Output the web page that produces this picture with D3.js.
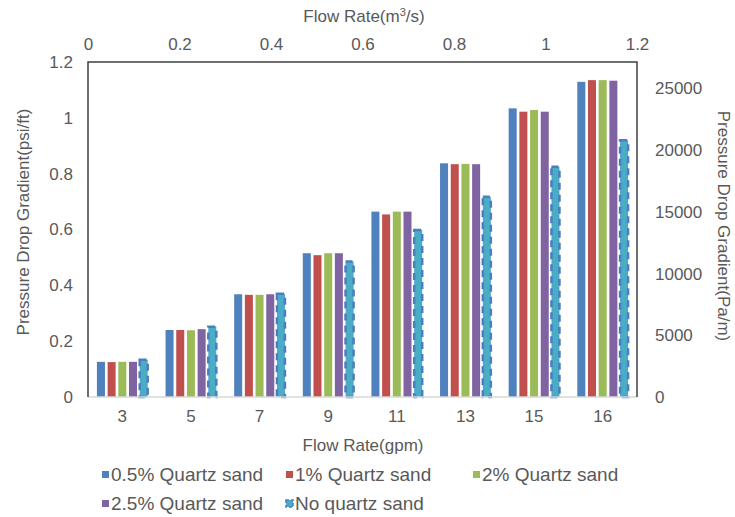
<!DOCTYPE html>
<html>
<head>
<meta charset="utf-8">
<script src="https://cdn.jsdelivr.net/npm/d3@7/dist/d3.min.js"></script>
<style>
  html, body { margin: 0; padding: 0; background: #fff; }
  svg text { font-family: "Liberation Sans", Arial, sans-serif; fill: #595959; }
</style>
</head>
<body>
<svg id="chart" width="735" height="517"></svg>
<script>
// Flow rates (gpm) on the category axis
const flowRates = ["3", "5", "7", "9", "11", "13", "15", "16"];

// Pressure drop gradient (psi/ft) per sand concentration
const sand05 = [0.126, 0.240, 0.368, 0.515, 0.664, 0.837, 1.034, 1.129];
const sand1  = [0.125, 0.240, 0.366, 0.508, 0.654, 0.834, 1.022, 1.135];
const sand2  = [0.126, 0.239, 0.366, 0.515, 0.664, 0.835, 1.028, 1.135];
const sand25 = [0.126, 0.243, 0.368, 0.515, 0.664, 0.834, 1.022, 1.133];
const noSand = [0.133, 0.252, 0.370, 0.485, 0.598, 0.717, 0.825, 0.920];

const seriesNames = ["0.5% Quartz sand", "1% Quartz sand", "2% Quartz sand", "2.5% Quartz sand", "No quartz sand"];
const seriesValues = [sand05, sand1, sand2, sand25, noSand];
const seriesColors = ["#4F81BD", "#C0504D", "#9BBB59", "#8064A2", "#4BACC6"];

const leftTicks  = [0, 0.2, 0.4, 0.6, 0.8, 1, 1.2];
const rightTicks = [0, 5000, 10000, 15000, 20000, 25000];
const topTicks   = [0, 0.2, 0.4, 0.6, 0.8, 1, 1.2];

const PSI_FT_TO_PA_M = 22620.6;

const svg = d3.select("#chart");
const plot = { left: 88, right: 637, top: 62, bottom: 397 };

const x0 = d3.scaleBand().domain(flowRates)
  .range([plot.left, plot.right]).paddingInner(0.26).paddingOuter(0.13);
const x1 = d3.scaleBand().domain(d3.range(seriesNames.length))
  .range([0, x0.bandwidth()]).paddingInner(0.25);
const y = d3.scaleLinear().domain([0, 1.2]).range([plot.bottom, plot.top]);
const yRight = d3.scaleLinear().domain([0, 1.2 * PSI_FT_TO_PA_M]).range([plot.bottom, plot.top]);
const xTop = d3.scaleLinear().domain([0, 1.2]).range([plot.left, plot.right]);

// Bars
const groups = svg.append("g").selectAll("g")
  .data(flowRates).join("g")
  .attr("transform", d => `translate(${x0(d)},0)`);

groups.selectAll("rect")
  .data((d, i) => seriesValues.map((vals, s) => ({ s, v: vals[i] })))
  .join("rect")
  .attr("x", d => x1(d.s))
  .attr("y", d => y(d.v))
  .attr("width", x1.bandwidth())
  .attr("height", d => y(0) - y(d.v))
  .attr("fill", d => seriesColors[d.s])
  .attr("stroke", d => d.s === 4 ? "#4A7EC0" : "none")
  .attr("stroke-width", d => d.s === 4 ? 2.5 : 0)
  .attr("stroke-dasharray", d => d.s === 4 ? "7,5" : null);

// Plot frame
svg.append("line").attr("x1", plot.left).attr("x2", plot.right)
  .attr("y1", plot.bottom).attr("y2", plot.bottom)
  .attr("stroke", "#d9d9d9").attr("stroke-width", 1.5);
svg.append("path")
  .attr("d", `M${plot.left},${plot.bottom}V${plot.top}H${plot.right}V${plot.bottom}`)
  .attr("fill", "none").attr("stroke", "#404040").attr("stroke-width", 1.5);

// Axes (labels only, no tick marks)
const tickFont = "17px";
const leftAxis = svg.append("g").attr("transform", `translate(${plot.left},0)`)
  .call(d3.axisLeft(y).tickValues(leftTicks).tickSize(0).tickPadding(15).tickFormat(d3.format("~g")));
const rightAxis = svg.append("g").attr("transform", `translate(${plot.right},0)`)
  .call(d3.axisRight(yRight).tickValues(rightTicks).tickSize(0).tickPadding(18).tickFormat(d3.format("d")));
const topAxis = svg.append("g").attr("transform", `translate(0,${plot.top})`)
  .call(d3.axisTop(xTop).tickValues(topTicks).tickSize(0).tickPadding(12).tickFormat(d3.format("~g")));
const bottomAxis = svg.append("g").attr("transform", `translate(0,${plot.bottom})`)
  .call(d3.axisBottom(x0).tickSize(0).tickPadding(13));

[leftAxis, rightAxis, topAxis, bottomAxis].forEach(a => {
  a.select(".domain").remove();
  a.selectAll("text").style("font-size", tickFont).style("fill", "#595959")
    .style("font-family", "'Liberation Sans', Arial, sans-serif");
});

// Axis titles
const titleStyle = sel => sel.style("font-size", "17px").attr("text-anchor", "middle");
const topTitle = svg.append("text").attr("x", 364).attr("y", 22).call(titleStyle);
topTitle.append("tspan").text("Flow Rate(m");
topTitle.append("tspan").text("3").attr("dy", -6).style("font-size", "11px");
topTitle.append("tspan").text("/s)").attr("dy", 6);

svg.append("text").attr("x", 363).attr("y", 451).text("Flow Rate(gpm)").call(titleStyle);
svg.append("text").attr("transform", "translate(29,222) rotate(-90)")
  .text("Pressure Drop Gradient(psi/ft)").call(titleStyle);
svg.append("text").attr("transform", "translate(718,226) rotate(90)")
  .text("Pressure Drop Gradient(Pa/m)").call(titleStyle);

// Legend
const legendPos = [[102, 475], [286, 475], [473, 475], [102, 504], [286, 504]];
const legend = svg.append("g").selectAll("g")
  .data(seriesNames).join("g")
  .attr("transform", (d, i) => `translate(${legendPos[i][0]},${legendPos[i][1]})`);
legend.append("rect")
  .attr("x", 0).attr("y", -4).attr("width", 7).attr("height", 7)
  .attr("fill", (d, i) => seriesColors[i])
  .attr("stroke", (d, i) => i === 4 ? "#4A7EC0" : "none")
  .attr("stroke-width", 1.5)
  .attr("stroke-dasharray", (d, i) => i === 4 ? "3,2" : null);
legend.append("text")
  .attr("x", 9).attr("y", 6)
  .style("font-size", "19px")
  .text(d => d);
</script>
</body>
</html>
